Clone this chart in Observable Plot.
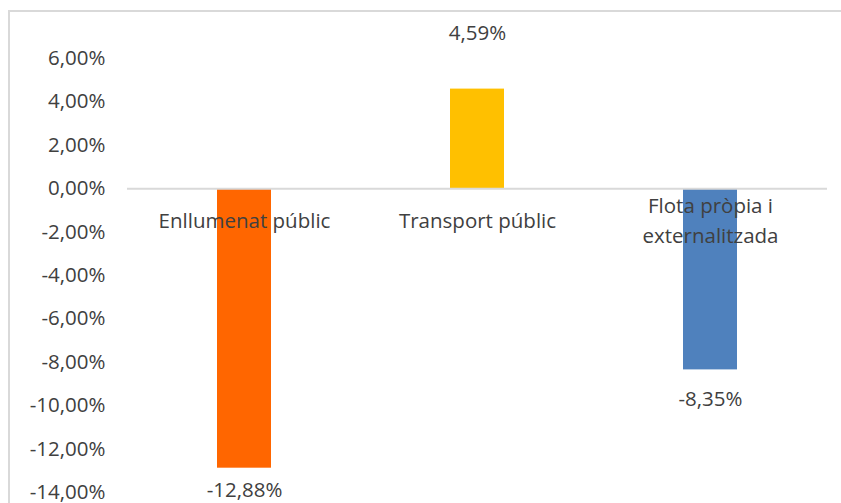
<!DOCTYPE html>
<html>
<head>
<meta charset="utf-8">
<script src="https://cdn.jsdelivr.net/npm/d3@7"></script>
<script src="https://cdn.jsdelivr.net/npm/@observablehq/plot@0.6"></script>
<style>
  html, body { margin: 0; padding: 0; background: #fff; overflow: hidden; }
  #wrap { position: relative; width: 841px; height: 503px; overflow: hidden; }
  #frame { position: absolute; left: 8px; top: 10px; width: 900px; height: 600px; border: 2px solid #d9d9d9; box-sizing: border-box; }
  #chart { position: absolute; left: 0; top: 0; }
</style>
</head>
<body>
<div id="wrap"><div id="frame"></div><div id="chart"></div></div>
<script>
const categories = ["Enllumenat públic", "Transport públic", "Flota pròpia i\nexternalitzada"];
const values = [-12.88, 4.59, -8.35];
const colors = ["#FF6600", "#FFC000", "#4F81BD"];
const yTicks = [-14, -12, -10, -8, -6, -4, -2, 0, 2, 4, 6];

const data = categories.map((c, i) => ({category: c, value: values[i], color: colors[i]}));
const fmt = d => d.toFixed(2).replace(".", ",") + "%";
const font = "'Open Sans', sans-serif";
const textColor = "#404040";
const fs = 20.5;

const chart = Plot.plot({
  width: 841,
  height: 503,
  marginLeft: 127,
  marginRight: 14,
  marginTop: 58,
  marginBottom: 11,
  style: {fontFamily: font, fontSize: fs + "px", color: textColor, background: "transparent", overflow: "visible"},
  x: {domain: categories, paddingInner: 0.77, paddingOuter: 0.385, axis: null},
  y: {domain: [-14, 6], ticks: yTicks, tickFormat: fmt, tickSize: 0, tickPadding: 22, label: null},
  marks: [
    Plot.barY(data, {x: "category", y: "value", fill: "color"}),
    Plot.ruleY([0], {stroke: "#d9d9d9", strokeWidth: 2}),
    Plot.text(data, {x: "category", y: 0, text: "category", dy: 30, lineHeight: 1.47, lineAnchor: "middle", fill: textColor, fontSize: fs}),
    Plot.text(data.filter(d => d.value > 0), {x: "category", y: "value", text: d => fmt(d.value), dy: -56, fill: textColor, fontSize: fs}),
    Plot.text(data.filter(d => d.value < -10), {x: "category", y: "value", text: d => fmt(d.value), dy: 22, fill: textColor, fontSize: fs}),
    Plot.text(data.filter(d => d.value < 0 && d.value > -10), {x: "category", y: "value", text: d => fmt(d.value), dy: 30, fill: textColor, fontSize: fs})
  ]
});
document.getElementById("chart").appendChild(chart);
</script>
</body>
</html>
